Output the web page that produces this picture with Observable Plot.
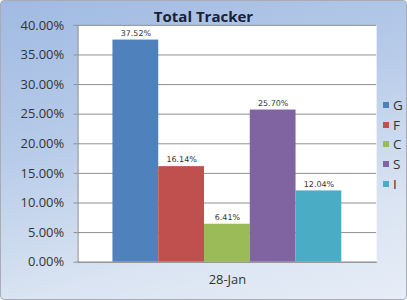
<!DOCTYPE html>
<html>
<head>
<meta charset="utf-8">
<script src="https://cdn.jsdelivr.net/npm/d3@7"></script>
<script src="https://cdn.jsdelivr.net/npm/@observablehq/plot@0.6"></script>
<style>
  html, body { margin: 0; padding: 0; background: #fff; }
  #chart {
    position: relative; width: 405px; height: 298px; overflow: hidden;
    border: 1px solid #a9adb3; border-radius: 4px;
    background: linear-gradient(165deg, #a0bae2 0%, #b8cce9 40%, #dae4f2 75%, #e6edf7 100%);
    font-family: "Open Sans", sans-serif;
  }
  #chart svg { position: absolute; left: -1px; top: -1px; }
  #title {
    position: absolute; left: 0; width: 405px; top: 5px; text-align: center;
    font-weight: bold; font-size: 15px; color: #17223b; line-height: 20px;
  }
  #legend { position: absolute; left: 382px; top: 94px; }
  .item { height: 19.8px; display: flex; align-items: center; font-size: 13.5px; color: #333; }
  .sw { width: 6px; height: 6px; margin-right: 4px; }
</style>
</head>
<body>
<div id="chart">
  <div id="title"></div>
  <div id="legend"></div>
</div>
<script>
const chartTitle = "Total Tracker";
const categories = ["28-Jan"];
const series = ["G", "F", "C", "S", "I"];
const values = [0.3752, 0.1614, 0.0641, 0.2570, 0.1204];
const colors = ["#4f81bd", "#c0504d", "#9bbb59", "#8064a2", "#4bacc6"];
const yTicks = [0, 0.05, 0.10, 0.15, 0.20, 0.25, 0.30, 0.35, 0.40];

const data = series.map((s, i) => ({date: categories[0], series: s, value: values[i]}));
const pct = d => (d * 100).toFixed(2) + "%";

const plot = Plot.plot({
  width: 407, height: 300,
  marginLeft: 78, marginRight: 29, marginTop: 25, marginBottom: 37,
  style: {background: "transparent", fontFamily: "Open Sans, sans-serif", fontSize: "12.5px", color: "#333"},
  fx: {domain: categories, padding: 0, label: null, axis: null},
  x: {domain: series, axis: null, paddingInner: 0, paddingOuter: 0.76},
  y: {domain: [0, 0.4], axis: null},
  color: {domain: series, range: colors},
  marks: [
    Plot.frame({fill: "white", stroke: "none"}),
    Plot.gridY(yTicks, {stroke: "#8f8f8f", strokeOpacity: 1}),
    Plot.barY(data, {fx: "date", x: "series", y: "value", fill: "series"}),
    Plot.text(data, {fx: "date", x: "series", y: "value", text: d => pct(d.value), dy: -7, fontSize: 8, fill: "#333", fontFamily: "DejaVu Sans, sans-serif"}),
    Plot.frame({anchor: "left", stroke: "#8f8f8f"}),
    Plot.frame({anchor: "bottom", stroke: "#8f8f8f"}),
    Plot.axisY({ticks: yTicks, tickFormat: pct, tickSize: 4, tickPadding: 10, stroke: "#8f8f8f", fill: "#333", label: null, fontSize: 13}),
    Plot.axisFx({anchor: "bottom", domain: categories, tickSize: 0, tickPadding: 13, label: null, fill: "#333", fontSize: 13})
  ]
});

const chart = document.getElementById("chart");
chart.insertBefore(plot, chart.firstChild);
document.getElementById("title").textContent = chartTitle;
const legend = document.getElementById("legend");
series.forEach((s, i) => {
  const it = document.createElement("div");
  it.className = "item";
  const sw = document.createElement("span");
  sw.className = "sw";
  sw.style.background = colors[i];
  const lb = document.createElement("span");
  lb.textContent = s;
  it.appendChild(sw); it.appendChild(lb);
  legend.appendChild(it);
});
</script>
</body>
</html>
